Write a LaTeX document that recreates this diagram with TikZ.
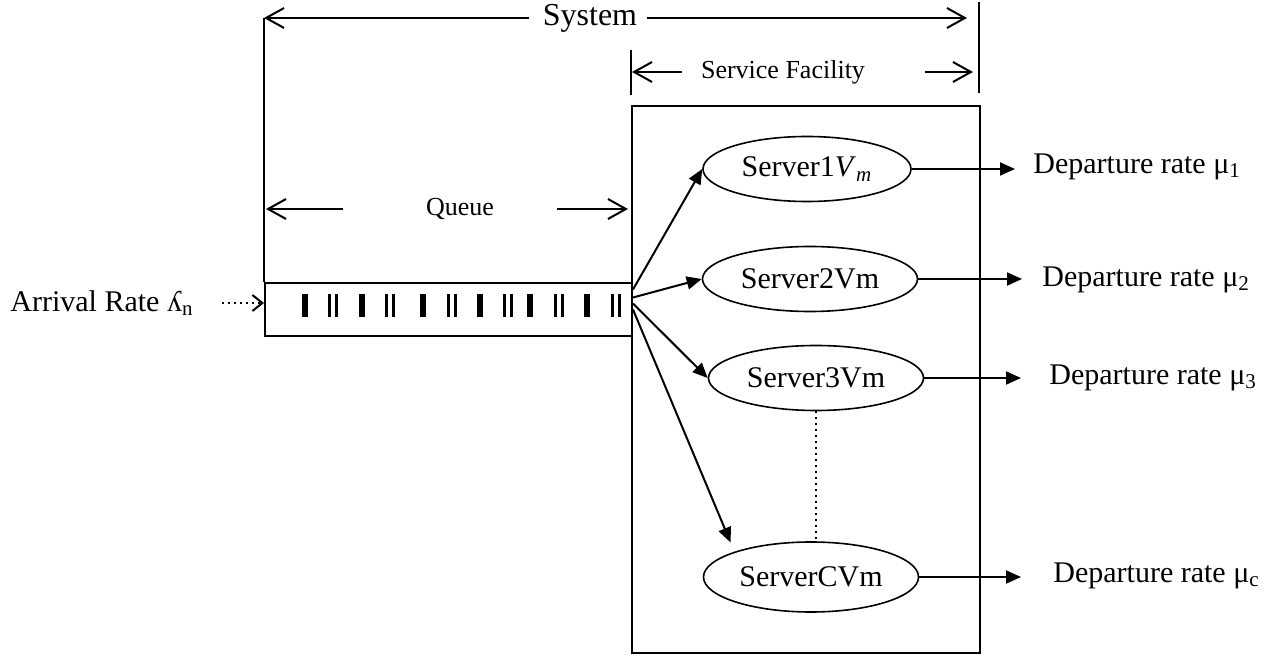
\documentclass[tikz,border=0pt]{standalone}
\usepackage{fontspec}
\setmainfont{Liberation Serif}
\usetikzlibrary{arrows.meta,shapes.geometric,calc}
\begin{document}
\begin{tikzpicture}[x=0.5pt,y=-0.5pt,
  line/.style={line width=1pt},
  dim/.style={line width=1pt,-{Straight Barb[length=9pt,width=10pt,line width=1pt]}},
  flow/.style={line width=1pt,-{Triangle[length=7.5pt,width=6.5pt]}},
  srv/.style={ellipse,draw,line width=0.8pt,minimum width=106pt,minimum height=32.5pt,inner sep=0pt,font=\fontsize{15}{18}\selectfont},
  lbl/.style={font=\fontsize{15}{18}\selectfont,inner sep=0pt},
  small/.style={font=\fontsize{13}{16}\selectfont,inner sep=0pt},
  big/.style={font=\fontsize{16}{19}\selectfont,inner sep=0pt}]
\useasboundingbox (0,0) rectangle (1287,657);

% service facility box and queue box
\node[draw,line width=1pt,anchor=north west,minimum width=174pt,minimum height=273.5pt,inner sep=0pt] (fac) at (631,105) {};
\node[draw,line width=1pt,anchor=north west,minimum width=183.5pt,minimum height=26.5pt,inner sep=0pt] (queue) at (264,282) {};

% customers waiting in the queue
\foreach \x in {305,362,423,480,530,587}
  \fill (\x-3,294) rectangle (\x+3,317);
\foreach \x in {333,390,452,508,559,616} {
  \fill (\x-5,294) rectangle (\x-2,317);
  \fill (\x+2,294) rectangle (\x+5,317);
}

% System span
\node[big] (sys) at (590,18) {System};
\coordinate (sysL) at (264,18);
\coordinate (sysR) at (967,18);
\draw[dim] ([xshift=-6.5pt]sys.west) -- (sysL);
\draw[dim] ([xshift=4.5pt]sys.east) -- (sysR);
\draw[line] (sysL) -- (queue.north west);
\coordinate (rtop) at (979,2);
\coordinate (rbot) at (979,93);
\draw[line] (rtop) -- (rbot);

% Service facility span
\node[small] (sf) at (783,72) {Service Facility};
\coordinate (sfL) at (632,72);
\coordinate (sfR) at (973,72);
\draw[dim] ([xshift=-9.5pt]sf.west) -- (sfL);
\draw[dim] ([xshift=30pt]sf.east) -- (sfR);
\coordinate (ltop) at (631,50);
\coordinate (lbot) at (631,95);
\draw[line] (ltop) -- (lbot);

% Queue span
\node[small] (qt) at (460,209) {Queue};
\coordinate (qL) at (266,209);
\coordinate (qR) at (628,209);
\draw[dim] ([xshift=-41.5pt]qt.west) -- (qL);
\draw[dim] ([xshift=31.5pt]qt.east) -- (qR);

% arrivals
\node[lbl,anchor=west] (arr) at (10,303) {Arrival Rate ʎ\textsubscript{n}};
\draw[line width=1pt,dotted,-{Straight Barb[length=5pt,width=8pt,line width=1pt]}]
  ([xshift=14pt]arr.east) -- (arr.east -| queue.west);

% servers
\node[srv,minimum width=104pt] (s1) at (807,169) {Server1\textit{V}\textsubscript{\textit{m}}};
\node[srv,minimum width=107.5pt] (s2) at (810,279) {Server2Vm};
\node[srv,minimum width=107.5pt] (s3) at (816,378) {Server3Vm};
\node[srv,minimum width=107.5pt,minimum height=35pt] (sc) at (811,577) {ServerCVm};

\draw[flow] ([yshift=10pt]queue.east) -- (s1.west);
\draw[flow] ([yshift=6pt]queue.east) -- (s2.west);
\draw[flow] ([yshift=3pt]queue.east) -- (s3.west);
\draw[flow,shorten >=5pt] (queue.east) -- (sc.north west);
\draw[line width=1pt,dotted] (s3.south) -- (s3.south |- sc.north);

% departures
\node[lbl,anchor=west] (d1) at (1033,167) {Departure rate μ\textsubscript{1}};
\node[lbl,anchor=west] (d2) at (1042,280) {Departure rate μ\textsubscript{2}};
\node[lbl,anchor=west] (d3) at (1049,378) {Departure rate μ\textsubscript{3}};
\node[lbl,anchor=west] (dc) at (1053,576) {Departure rate μ\textsubscript{c}};
\draw[flow] (s1.east) -- (s1.east -| {$(d1.west)+(-18,0)$});
\draw[flow] (s2.east) -- (s2.east -| {$(d2.west)+(-20,0)$});
\draw[flow] (s3.east) -- (s3.east -| {$(d3.west)+(-28,0)$});
\draw[flow] (sc.east) -- (sc.east -| {$(dc.west)+(-32,0)$});
\end{tikzpicture}
\end{document}
